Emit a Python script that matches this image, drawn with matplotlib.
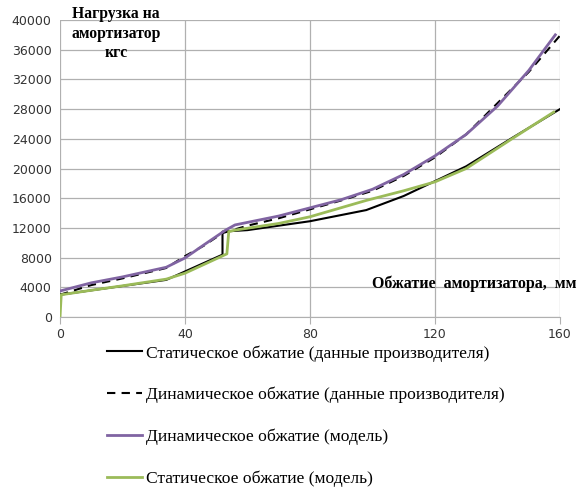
import matplotlib
matplotlib.use('Agg')
from matplotlib import pyplot as plt
from matplotlib.ticker import MultipleLocator

plt.rcParams['font.family'] = ['Liberation Serif', 'DejaVu Serif']

# static compression, manufacturer data
stat_x = [0, 34, 52, 52, 60, 80, 98, 110, 130, 145, 160]
stat_y = [3000, 5000, 8400, 11500, 11700, 12900, 14400, 16300, 20300, 24200, 28000]

# dynamic compression, manufacturer data
dyn_x = [0, 10, 20, 34, 40, 46, 52, 60, 70, 80, 90, 100, 110, 120, 130, 140, 150, 160]
dyn_y = [3000, 4300, 5200, 6600, 8200, 9600, 11300, 12300, 13300, 14500, 15700, 17000, 19000,
         21500, 24600, 28800, 33000, 37900]

# dynamic compression, model
dmod_x = [0, 10, 20, 34, 40, 46, 53, 56, 70, 80, 90, 100, 110, 120, 130, 140, 150, 158.5]
dmod_y = [3500, 4600, 5400, 6700, 7950, 9700, 11700, 12400, 13600, 14700, 15800, 17200, 19200,
          21700, 24600, 28400, 33200, 38000]

# static compression, model
smod_x = [0, 0.4, 10, 20, 34, 40, 53.4, 54, 56, 70, 80, 98, 110, 120, 130, 145, 158]
smod_y = [0, 3000, 3600, 4200, 5100, 5900, 8500, 11500, 11700, 12600, 13500, 15700, 17000,
          18200, 20000, 24100, 27600]

fig = plt.figure(figsize=(5.87, 4.95), dpi=100)
ax = fig.add_axes([60 / 587, 1 - 317 / 495, 500 / 587, 297 / 495])

l1, = ax.plot(stat_x, stat_y, color='black', lw=1.5)
l2, = ax.plot(dyn_x, dyn_y, color='black', lw=1.5, ls=(0, (4, 3)))
l3, = ax.plot(dmod_x, dmod_y, color='#8064a2', lw=2)
l4, = ax.plot(smod_x, smod_y, color='#9bbb59', lw=2)

ax.set_xlim(0, 160)
ax.set_ylim(0, 40000)
ax.xaxis.set_major_locator(MultipleLocator(40))
ax.yaxis.set_major_locator(MultipleLocator(4000))
ax.grid(True, color='#b0b0b0', lw=0.9)
ax.set_axisbelow(True)
for s in ['top', 'right', 'left']:
    ax.spines[s].set_visible(False)
ax.spines['bottom'].set_color('#b0b0b0')
ax.tick_params(axis='x', length=5, color='#b0b0b0', labelsize=9, pad=3)
ax.tick_params(axis='y', length=0, labelsize=9, pad=6)
for lab in ax.get_xticklabels() + ax.get_yticklabels():
    lab.set_fontfamily('DejaVu Sans')
    lab.set_color('#333333')

fig.text(116 / 587, 1 - 6 / 495, 'Нагрузка на\nамортизатор\nкгс', ha='center', va='top',
         fontsize=11.3, fontweight='bold', linespacing=1.3)
fig.text(576 / 587, 1 - 284 / 495, 'Обжатие  амортизатора,  мм', ha='right', va='center',
         fontsize=11.5, fontweight='bold')

leg = fig.legend([l1, l2, l3, l4],
                 ['Статическое обжатие (данные производителя)',
                  'Динамическое обжатие (данные производителя)',
                  'Динамическое обжатие (модель)',
                  'Статическое обжатие (модель)'],
                 loc='upper left', bbox_to_anchor=(107 / 587, 1 - 345 / 495), frameon=False,
                 fontsize=12.6, handlelength=2.0, handletextpad=0.25, labelspacing=1.45,
                 borderaxespad=0, borderpad=0)

fig.savefig('out.png', dpi=100)
